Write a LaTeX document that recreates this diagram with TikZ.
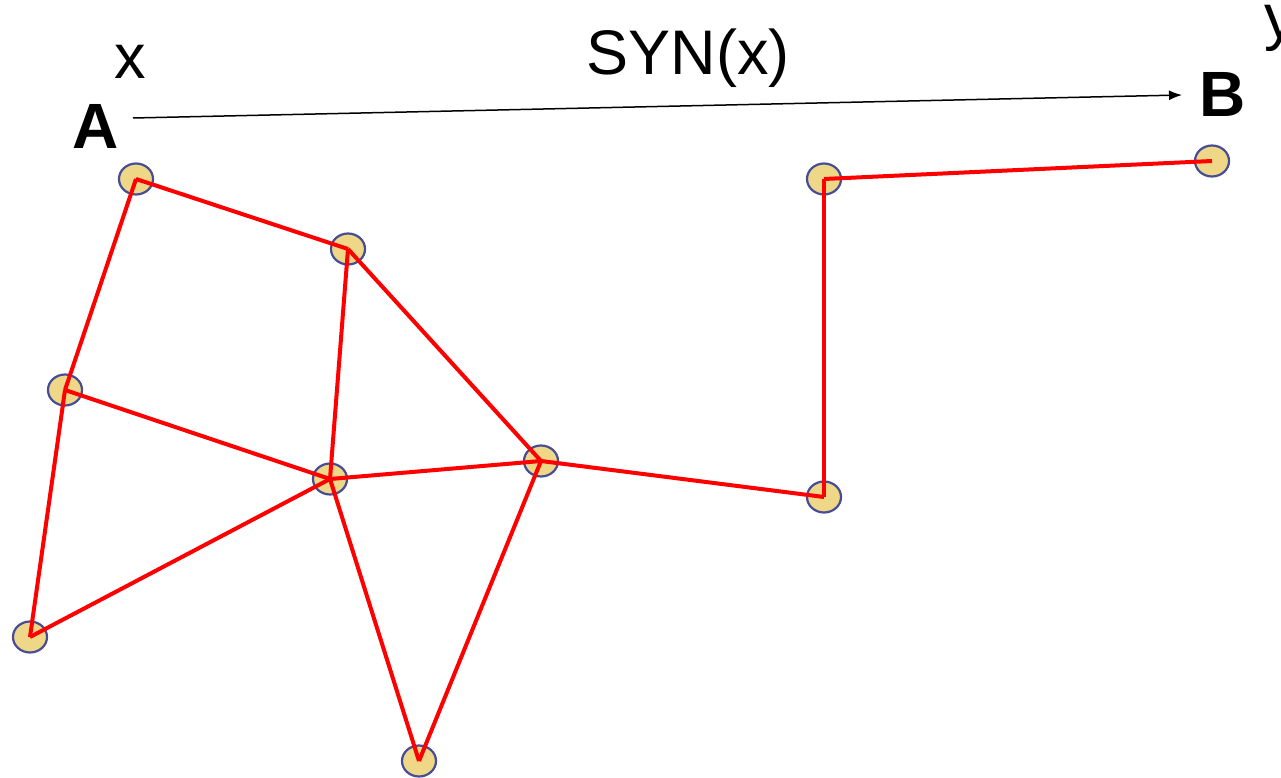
\documentclass[tikz,border=0pt]{standalone}
\usepackage{fontspec}
\setmainfont{Liberation Sans}
\usetikzlibrary{arrows.meta,shapes.geometric}
\definecolor{nodefill}{RGB}{238,215,135}
\definecolor{nodeborder}{RGB}{70,76,150}
\definecolor{edgered}{RGB}{255,0,0}
\tikzset{
  vtx/.style={ellipse, draw=nodeborder, fill=nodefill, line width=2.2pt, minimum width=34pt, minimum height=31pt, inner sep=0pt},
  edge/.style={draw=edgered, line width=4pt, line join=miter},
  lbl/.style={inner sep=0pt, font=\fontsize{63}{63}\selectfont},
  blbl/.style={inner sep=0pt, font=\fontsize{64}{64}\selectfont\bfseries}
}
\begin{document}
\begin{tikzpicture}[x=1pt,y=-1pt]
\useasboundingbox (0,0) rectangle (1281,778);
\node[vtx] (n1) at (136,179) {};
\node[vtx] (n2) at (348,249) {};
\node[vtx] (n3) at (65,390) {};
\node[vtx] (n4) at (330,479) {};
\node[vtx] (n5) at (541,461) {};
\node[vtx] (n6) at (30,637) {};
\node[vtx] (n7) at (419,761) {};
\node[vtx] (n8) at (824,179) {};
\node[vtx] (n9) at (824,497) {};
\node[vtx] (n10) at (1212,161) {};
\draw[edge] (n1.center) -- (n2.center);
\draw[edge] (n1.center) -- (n3.center);
\draw[edge] (n2.center) -- (n4.center);
\draw[edge] (n2.center) -- (n5.center);
\draw[edge] (n3.center) -- (n4.center);
\draw[edge] (n3.center) -- (n6.center);
\draw[edge] (n6.center) -- (n4.center);
\draw[edge] (n4.center) -- (n5.center);
\draw[edge] (n4.center) -- (n7.center);
\draw[edge] (n7.center) -- (n5.center);
\draw[edge] (n5.center) -- (n9.center);
\draw[edge] (n9.center) -- (n8.center);
\draw[edge] (n8.center) -- (n10.center);
\node[blbl] (A) at (96,126) {A};
\node[blbl] (B) at (1223,94) {B};
\node[lbl] (x) at (130,62) {x};
\node[lbl] (syn) at (688,58) {SYN(x)};
\node[lbl] (y) at (1280,28) {y};
\coordinate (s) at (133,118);
\coordinate (t) at (1182,95);
\draw[line width=1.5pt, -{Latex[length=13pt,width=10pt]}] (s) -- (t);
\end{tikzpicture}
\end{document}
